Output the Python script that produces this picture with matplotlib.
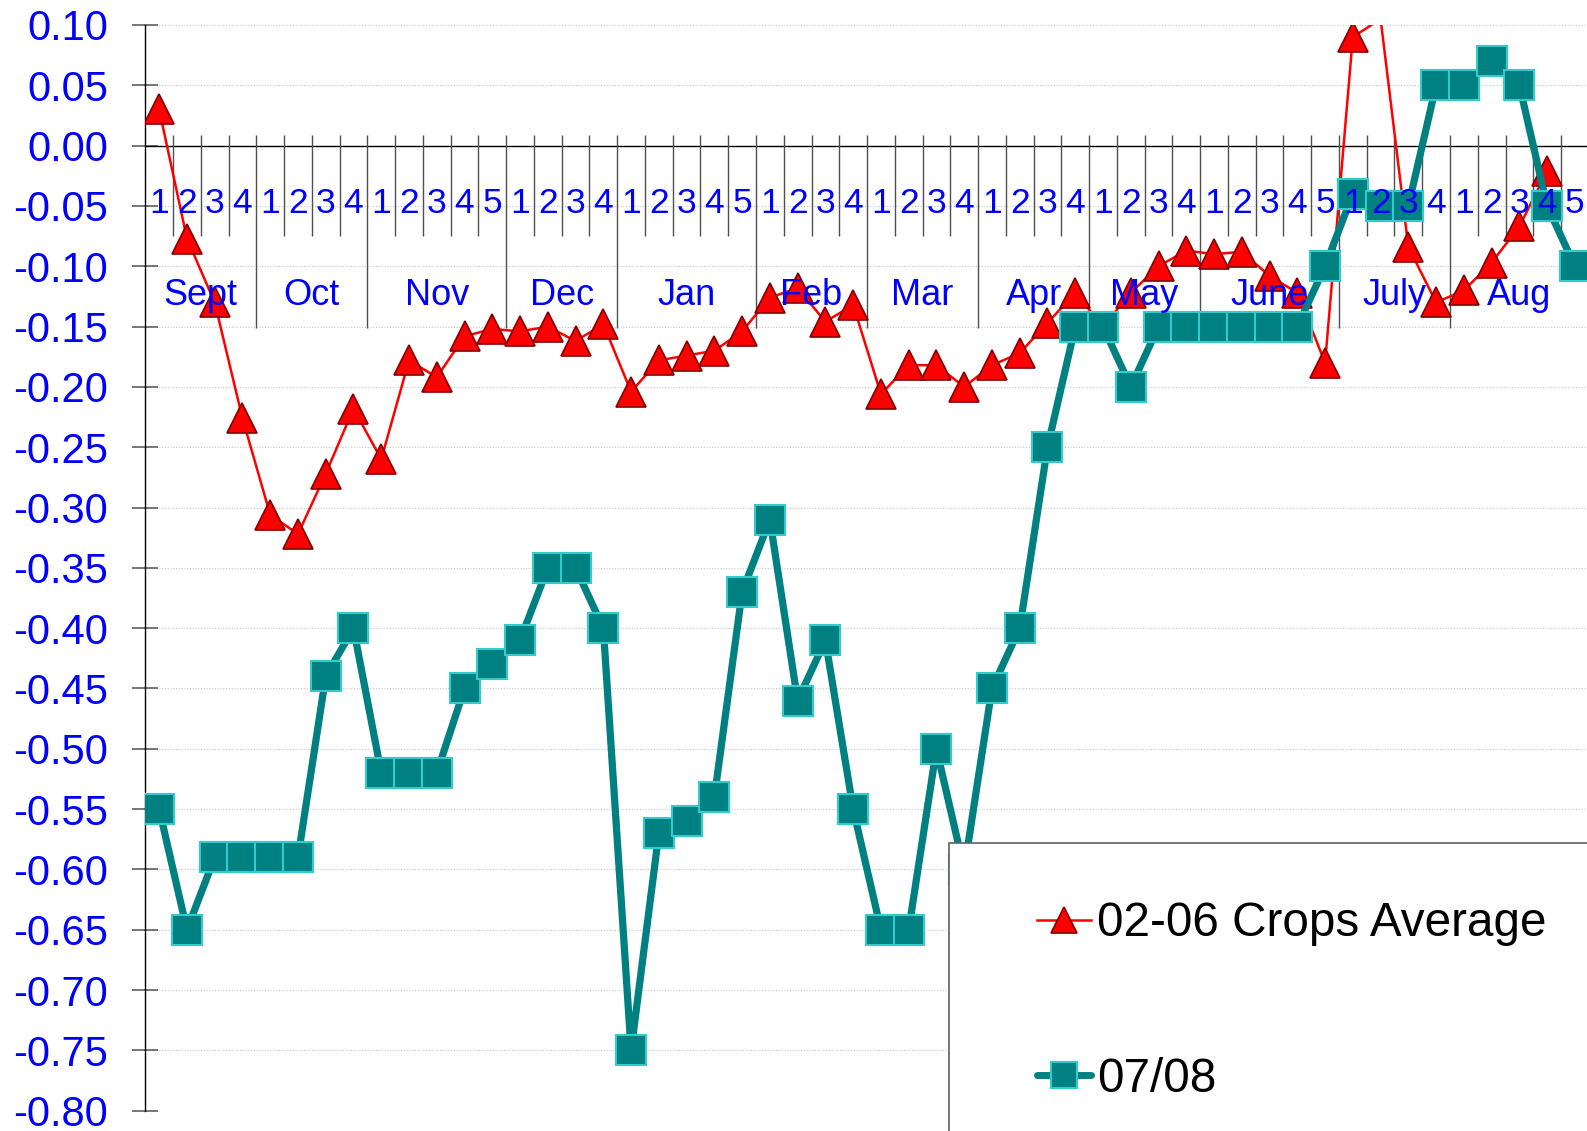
import numpy as np
import matplotlib
matplotlib.use('Agg')
import matplotlib.pyplot as plt
from matplotlib.lines import Line2D
from matplotlib.patches import Rectangle
from matplotlib.ticker import FormatStrFormatter, MultipleLocator

plt.rcParams['font.family'] = ['Liberation Sans', 'DejaVu Sans']
plt.rcParams['axes.unicode_minus'] = False

# months and number of weeks in each
months = ['Sept', 'Oct', 'Nov', 'Dec', 'Jan', 'Feb', 'Mar', 'Apr', 'May', 'June', 'July', 'Aug']
weeks_per_month = [4, 4, 5, 4, 5, 4, 4, 4, 4, 5, 4, 5]

# 02-06 crops average (July wk2 runs off the top of the scale, Aug wk5 missing)
avg_02_06 = [0.03, -0.077, -0.13, -0.226, -0.306, -0.322, -0.272, -0.218,
             -0.26, -0.178, -0.192, -0.158, -0.152,
             -0.154, -0.15, -0.162, -0.148,
             -0.204, -0.178, -0.174, -0.17, -0.154,
             -0.126, -0.118, -0.146, -0.132,
             -0.206, -0.182, -0.182, -0.2,
             -0.182, -0.172, -0.147, -0.122,
             -0.15, -0.122, -0.1, -0.087,
             -0.09, -0.088, -0.108, -0.122, -0.18,
             0.09, 0.105, -0.084, -0.13,
             -0.12, -0.097, -0.067, -0.021, np.nan]

# 07/08 season
crop_0708 = [-0.55, -0.65, -0.59, -0.59, -0.59, -0.59, -0.44, -0.40,
             -0.52, -0.52, -0.52, -0.45, -0.43,
             -0.41, -0.35, -0.35, -0.40,
             -0.75, -0.57, -0.56, -0.54, -0.37,
             -0.31, -0.46, -0.41, -0.55,
             -0.65, -0.65, -0.50, -0.60,
             -0.45, -0.40, -0.25, -0.15,
             -0.15, -0.20, -0.15, -0.15,
             -0.15, -0.15, -0.15, -0.15, -0.10,
             -0.04, -0.05, -0.05, 0.05,
             0.05, 0.07, 0.05, -0.05, -0.10]

week_labels = [str(w + 1) for n in weeks_per_month for w in range(n)]

ymin, ymax = -0.80, 0.10
x = np.arange(1, len(week_labels) + 1)

fig = plt.figure(figsize=(15.87, 11.31), dpi=100)
ax = fig.add_axes([145.3 / 1587, 0.01795, 1443.5 / 1587, 0.95995])

ax.set_xlim(0.5, len(week_labels) + 0.5)
ax.set_ylim(ymin, ymax)

for s in ['top', 'right', 'bottom']:
    ax.spines[s].set_visible(False)
ax.spines['left'].set_linewidth(1)
ax.spines['left'].set_color('black')

ax.set_xticks([])
ax.yaxis.set_major_locator(MultipleLocator(0.05))
ax.yaxis.set_major_formatter(FormatStrFormatter('%.2f'))
ax.tick_params(axis='y', direction='inout', length=18.4, width=1.2, color='#606060',
               pad=17.4, labelsize=30, labelcolor='#0000FF')
ax.yaxis.grid(True, linestyle=(0, (1, 1.5)), color='#c8c8c8', linewidth=0.8)
ax.set_axisbelow(True)

# category axis sitting on zero
ax.axhline(0, color='black', linewidth=1, zorder=2)
bounds = np.cumsum(weeks_per_month) + 0.5
week_bounds = np.arange(1.5, len(week_labels) + 0.6)
short = [b for b in week_bounds if b not in bounds]
ax.vlines(short, -0.075, 0.009, color='#505050', linewidth=1, zorder=2)
ax.vlines(bounds, -0.151, 0.009, color='#505050', linewidth=1, zorder=2)

for xi, lab in zip(x, week_labels):
    ax.text(xi, -0.0556, lab, ha='center', va='baseline', fontsize=25.5,
            color='#0000FF', zorder=6)
starts = np.concatenate([[0.5], bounds[:-1]])
for m, a, b in zip(months, starts, bounds):
    ax.text((a + b) / 2, -0.132, m, ha='center', va='baseline', fontsize=26,
            color='#0000FF', zorder=6)

red = np.array(avg_02_06)
teal = np.array(crop_0708)
red_mk = np.where(red > ymax, np.nan, red)

ax.plot(x, red, color='#FF0000', linewidth=1.8, solid_joinstyle='round', zorder=3)
ax.plot(x, red_mk, linestyle='none', marker='^', markersize=22,
        markerfacecolor='#FF0000', markeredgecolor='#800000', markeredgewidth=1.2, zorder=3)
ax.plot(x, teal, color='#008080', linewidth=5.2, solid_joinstyle='round',
        solid_capstyle='round', marker='s', markersize=22,
        markerfacecolor='#008080', markeredgecolor='#33CCCC', markeredgewidth=1.5, zorder=4)

# legend box running off the bottom right corner
fig.add_artist(Rectangle((949 / 1587, -0.05), 0.5, 1 - 843 / 1131 + 0.05,
                         transform=fig.transFigure, facecolor='white',
                         edgecolor='#606060', linewidth=1.2, zorder=4))
handles = [
    Line2D([], [], color='#FF0000', linewidth=1.8, marker='^', markersize=19,
           markerfacecolor='#FF0000', markeredgecolor='#800000', markeredgewidth=1.2),
    Line2D([], [], color='#008080', linewidth=5, solid_capstyle='round', marker='s',
           markersize=19, markerfacecolor='#008080', markeredgecolor='#33CCCC',
           markeredgewidth=1.5),
]
leg = fig.legend(handles, ['02-06 Crops Average', '07/08'], loc='center left',
                 bbox_to_anchor=(1037 / 1587, 1 - 1001.5 / 1131),
                 bbox_transform=fig.transFigure, frameon=False, fontsize=34.3,
                 borderpad=0, handlelength=1.14, handletextpad=0.12,
                 labelspacing=2.31, borderaxespad=0)
leg.set_zorder(6)

fig.savefig('out.png', dpi=100)
